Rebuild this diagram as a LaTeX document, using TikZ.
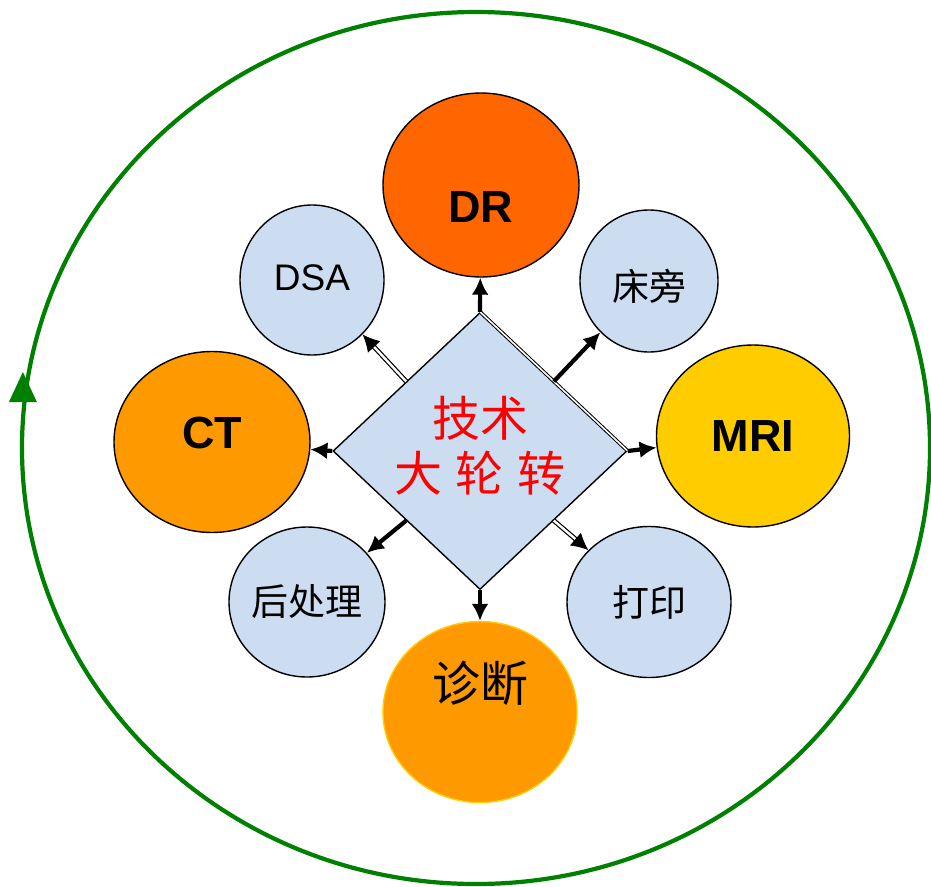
\documentclass[tikz,border=0pt]{standalone}
\usepackage{fontspec}
\setmainfont{Liberation Sans}
\newfontfamily\cjk[WordSpace=1.3]{Noto Sans CJK SC}
\usepackage{tikz}
\usetikzlibrary{arrows.meta,shapes,calc,positioning}

\definecolor{paleblue}{RGB}{204,221,242}
\definecolor{drorange}{RGB}{255,102,0}
\definecolor{ctorange}{RGB}{255,153,0}
\definecolor{mriyellow}{RGB}{255,204,0}
\definecolor{ringgreen}{RGB}{0,128,0}

\begin{document}
\begin{tikzpicture}[x=1pt, y=-1pt,
    bigdot/.style={draw, ellipse, line width=1.4pt, inner sep=0pt},
    smalldot/.style={draw, ellipse, fill=paleblue, line width=1.4pt, inner sep=0pt},
    solidarrow/.style={line width=4.2pt, -{Latex[length=17pt,width=17pt]}},
    hollowarrow/.style={line width=1.2pt, double=white, double distance=2.4pt, -{Latex[length=17pt,width=17pt]}},
    bigtext/.style={font=\fontsize{45}{54}\selectfont\bfseries},
    smalltext/.style={font=\fontsize{37}{44}\selectfont},
    cjktext/.style={font=\cjk\fontsize{37}{44}\selectfont}]
    \useasboundingbox (0,0) rectangle (931,886);

    % outer cycle
    \node[draw=ringgreen, line width=4.2pt, ellipse, minimum width=908pt, minimum height=872pt, inner sep=0pt] (cycle) at (476,448) {};
    \fill[ringgreen] ($(cycle.west)+(3,-76)$) -- ($(cycle.west)+(-11,-46)$) -- ($(cycle.west)+(17,-46)$) -- cycle;

    % centre
    \node[draw, diamond, fill=paleblue, line width=1.4pt, minimum width=294pt, minimum height=277pt, inner sep=0pt] (hub) at (480,451) {};
    \draw[line width=1pt, double=white, double distance=1.6pt] (hub.north) -- (hub.east);
    \node[red, font=\cjk\fontsize{48}{55}\selectfont, align=center] (title) at (480,446) {技术\\大 轮 转};

    % modalities
    \node[bigdot, fill=drorange, minimum width=196pt, minimum height=184pt] (dr) at (481,185) {};
    \node[bigdot, fill=ctorange, minimum width=196pt, minimum height=181pt] (ct) at (212,442) {};
    \node[bigdot, fill=mriyellow, minimum width=193pt, minimum height=182pt] (mri) at (753,436) {};
    \node[bigdot, draw=mriyellow, fill=ctorange, minimum width=194pt, minimum height=181pt] (diag) at (480,712) {};

    \node[smalldot, minimum width=144pt, minimum height=150pt] (dsa) at (312,280) {};
    \node[smalldot, minimum width=138pt, minimum height=142pt] (bed) at (649,281) {};
    \node[smalldot, minimum width=156pt, minimum height=150pt] (post) at (307,602) {};
    \node[smalldot, minimum width=164pt, minimum height=151pt] (prt) at (649,602) {};

    % labels
    \node[bigtext] (drlabel) at ($(dr)+(0,22)$) {DR};
    \node[bigtext] (ctlabel) at ($(ct)+(0,-9)$) {CT};
    \node[bigtext] (mrilabel) at (mri) {MRI};
    \node[font=\cjk\fontsize{48}{55}\selectfont] (diaglabel) at ($(diag)+(0,-29)$) {诊断};
    \node[smalltext] (dsalabel) at ($(dsa)+(0,-2)$) {DSA};
    \node[cjktext] (bedlabel) at ($(bed)+(0,5)$) {床旁};
    \node[cjktext] (postlabel) at (post) {后处理};
    \node[cjktext] (prtlabel) at (prt) {打印};

    % arrows
    \draw[solidarrow] (hub.north) -- (dr);
    \draw[solidarrow] (hub.south) -- (diag);
    \draw[solidarrow] (hub.west) -- (ct);
    \draw[solidarrow] (hub.east) -- (mri);
    \draw[solidarrow] (hub.north east) -- (bed);
    \draw[solidarrow] (hub.south west) -- (post);
    \draw[hollowarrow] (hub.north west) -- (dsa);
    \draw[hollowarrow] (hub.south east) -- (prt);
\end{tikzpicture}
\end{document}
